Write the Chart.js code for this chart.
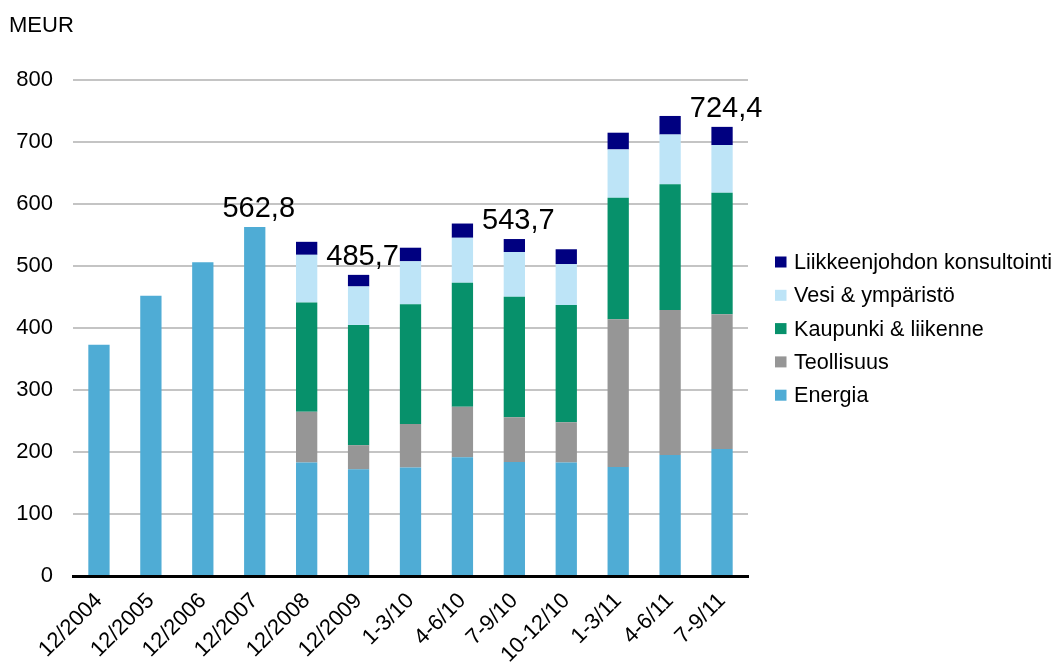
<!DOCTYPE html>
<html>
<head>
<meta charset="utf-8">
<script src="https://cdn.jsdelivr.net/npm/chart.js@4"></script>
<style>
  body { margin: 0; background: #fff; }
  #wrap { width: 1059px; height: 671px; }
</style>
</head>
<body>
<div id="wrap"><canvas id="revenueChart" width="1059" height="671"></canvas></div>
<script>
const categories = ['12/2004', '12/2005', '12/2006', '12/2007', '12/2008', '12/2009',
    '1-3/10', '4-6/10', '7-9/10', '10-12/10', '1-3/11', '4-6/11', '7-9/11'];

const energia = [373, 452, 506, 562.8, 183, 172, 175, 191.5, 184, 183, 176, 195, 205];
const teollisuus = [null, null, null, null, 82, 39, 70, 81.5, 72, 65, 238, 234, 217];
const kaupunki = [null, null, null, null, 176, 194, 193.5, 200, 194.5, 189, 196, 203, 196];
const vesi = [null, null, null, null, 77, 62, 69, 72.5, 72, 66, 78, 80, 77];
const konsultointi = [null, null, null, null, 21, 18.7, 22, 23, 21, 24, 27, 30, 29.4];

// total labels shown above some bars
const totalIndex = [3, 5, 8, 12];
const totalValue = [562.8, 485.7, 543.7, 724.4];
const totalText = ['562,8', '485,7', '543,7', '724,4'];

const yTicks = [0, 100, 200, 300, 400, 500, 600, 700, 800];

const FONT = "'Liberation Sans', Arial, sans-serif";

const extras = {
    id: 'extras',
    afterDraw(chart) {
        const ctx = chart.ctx;
        const x = chart.scales.x;
        const y = chart.scales.y;
        ctx.save();
        ctx.fillStyle = '#000';

        // unit label
        ctx.font = '22px ' + FONT;
        ctx.textAlign = 'left';
        ctx.textBaseline = 'alphabetic';
        ctx.fillText('MEUR', 9, 32);

        // totals
        ctx.font = '29px ' + FONT;
        ctx.textAlign = 'center';
        totalIndex.forEach((idx, i) => {
            const px = x.getPixelForValue(idx) + 4;
            const py = y.getPixelForValue(totalValue[i]) - 10;
            ctx.fillText(totalText[i], px, py);
        });

        // legend, reversed order
        const sets = chart.data.datasets.slice().reverse();
        ctx.font = '21.6px ' + FONT;
        ctx.textAlign = 'left';
        ctx.textBaseline = 'middle';
        sets.forEach((ds, i) => {
            const cy = 262 + i * 33.3;
            ctx.fillStyle = ds.backgroundColor;
            ctx.fillRect(775, cy - 5.5, 11.5, 11);
            ctx.fillStyle = '#000';
            ctx.fillText(ds.label, 794, cy + 1);
        });
        ctx.restore();
    }
};

new Chart(document.getElementById('revenueChart'), {
    type: 'bar',
    data: {
        labels: categories,
        datasets: [
            { label: 'Energia', data: energia, backgroundColor: '#4FACD5' },
            { label: 'Teollisuus', data: teollisuus, backgroundColor: '#969696' },
            { label: 'Kaupunki & liikenne', data: kaupunki, backgroundColor: '#07916B' },
            { label: 'Vesi & ympäristö', data: vesi, backgroundColor: '#BDE4F7' },
            { label: 'Liikkeenjohdon konsultointi', data: konsultointi, backgroundColor: '#000080' }
        ]
    },
    options: {
        responsive: false,
        animation: false,
        layout: { padding: { top: 80, right: 311, bottom: 0, left: 0 } },
        datasets: {
            bar: { categoryPercentage: 1, barPercentage: 0.41, borderWidth: 0 }
        },
        plugins: {
            legend: { display: false },
            tooltip: { enabled: false }
        },
        scales: {
            x: {
                stacked: true,
                grid: { display: false },
                border: { display: true, color: '#000', width: 3 },
                ticks: {
                    color: '#000',
                    font: { family: FONT, size: 22 },
                    minRotation: 45,
                    maxRotation: 45,
                    padding: 4
                },
                afterFit(scale) { scale.height = 95; }
            },
            y: {
                stacked: true,
                min: 0,
                max: 800,
                afterBuildTicks(scale) { scale.ticks = yTicks.map(v => ({ value: v })); },
                grid: { color: '#C4C4C4', lineWidth: 2, drawTicks: false },
                border: { display: false },
                ticks: {
                    color: '#000',
                    font: { family: FONT, size: 22 },
                    padding: 20
                },
                afterFit(scale) { scale.width = 73; }
            }
        }
    },
    plugins: [extras]
});
</script>
</body>
</html>
